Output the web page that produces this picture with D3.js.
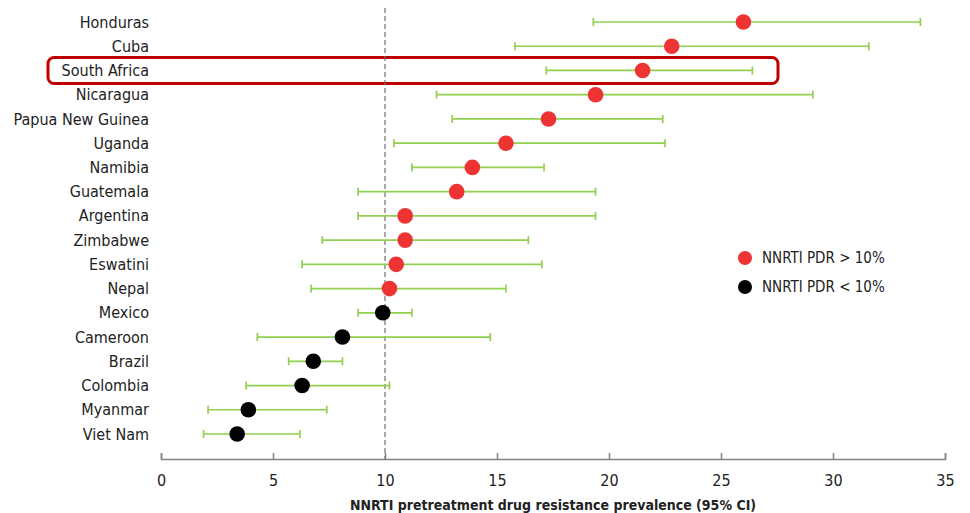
<!DOCTYPE html>
<html>
<head>
<meta charset="utf-8">
<script src="https://cdn.jsdelivr.net/npm/d3@7"></script>
<style>
  body { margin: 0; background: #fff; }
  text { font-family: "Liberation Sans Narrow", "Arial Narrow", "DejaVu Sans Condensed", sans-serif; }
</style>
</head>
<body>
<script>
const countries = ['Honduras', 'Cuba', 'South Africa', 'Nicaragua', 'Papua New Guinea', 'Uganda',
    'Namibia', 'Guatemala', 'Argentina', 'Zimbabwe', 'Eswatini', 'Nepal', 'Mexico', 'Cameroon',
    'Brazil', 'Colombia', 'Myanmar', 'Viet Nam'];
const prevalence = [26.0, 22.8, 21.5, 19.4, 17.3, 15.4, 13.9, 13.2, 10.9, 10.9, 10.5, 10.2,
    9.9, 8.1, 6.8, 6.3, 3.9, 3.4];
const ciLow = [19.3, 15.8, 17.2, 12.3, 13.0, 10.4, 11.2, 8.8, 8.8, 7.2, 6.3, 6.7,
    8.8, 4.3, 5.7, 3.8, 2.1, 1.9];
const ciHigh = [33.9, 31.6, 26.4, 29.1, 22.4, 22.5, 17.1, 19.4, 19.4, 16.4, 17.0, 15.4,
    11.2, 14.7, 8.1, 10.2, 7.4, 6.2];
const xTicks = [0, 5, 10, 15, 20, 25, 30, 35];
const threshold = 10;
const highlight = 'South Africa';
const legendItems = ['NNRTI PDR > 10%', 'NNRTI PDR < 10%'];

const RED = '#ee3333';
const BLACK = '#000000';
const GREEN = '#92d050';

function plot(svg)
{
    const rows = countries.map((c, i) => ({
        country: c, value: prevalence[i], lo: ciLow[i], hi: ciHigh[i]
    }));

    const scX = d3.scaleLinear().domain([0, 35]).range([161, 945]);
    const scY = d3.scalePoint().domain(countries).range([22, 434]);
    const colour = d => d.value > threshold ? RED : BLACK;

    // highlight box behind the row
    svg.append('rect')
        .attr('x', 48)
        .attr('y', scY(highlight) - 13)
        .attr('width', 730)
        .attr('height', 26)
        .attr('rx', 6)
        .attr('fill', 'none')
        .attr('stroke', '#c00000')
        .attr('stroke-width', 3);

    // threshold line
    svg.append('line')
        .attr('x1', scX(threshold)).attr('x2', scX(threshold))
        .attr('y1', 8).attr('y2', 459)
        .attr('stroke', '#707070')
        .attr('stroke-width', 1.2)
        .attr('stroke-dasharray', '5,3');

    // x axis
    const axis = svg.append('g')
        .attr('transform', 'translate(0, 459)')
        .call(d3.axisTop(scX).tickValues(xTicks).tickSize(6).tickFormat(d3.format('d')));
    axis.select('.domain').attr('stroke', '#808080').attr('stroke-width', 1.5);
    axis.selectAll('.tick line').attr('stroke', '#808080').attr('stroke-width', 1.5);
    axis.selectAll('.tick text')
        .attr('y', 21)
        .attr('dy', '0.35em')
        .attr('fill', '#222')
        .attr('font-size', 16);

    svg.append('text')
        .attr('x', scX(17.5))
        .attr('y', 510)
        .attr('text-anchor', 'middle')
        .attr('font-size', 14)
        .attr('font-weight', 'bold')
        .attr('fill', '#222')
        .text('NNRTI pretreatment drug resistance prevalence (95% CI)');

    // country labels
    svg.append('g').selectAll('text')
        .data(rows).enter().append('text')
        .attr('x', 149)
        .attr('y', d => scY(d.country))
        .attr('dy', '0.35em')
        .attr('text-anchor', 'end')
        .attr('font-size', 16)
        .attr('fill', '#222')
        .text(d => d.country);

    // error bars
    const bars = svg.append('g')
        .attr('stroke', GREEN)
        .attr('stroke-width', 1.7);
    bars.selectAll('line.ci')
        .data(rows).enter().append('line')
        .attr('class', 'ci')
        .attr('x1', d => scX(d.lo)).attr('x2', d => scX(d.hi))
        .attr('y1', d => scY(d.country)).attr('y2', d => scY(d.country));
    ['lo', 'hi'].forEach(k => {
        bars.selectAll('line.cap-' + k)
            .data(rows).enter().append('line')
            .attr('class', 'cap-' + k)
            .attr('x1', d => scX(d[k])).attr('x2', d => scX(d[k]))
            .attr('y1', d => scY(d.country) - 4).attr('y2', d => scY(d.country) + 4);
    });

    // points
    svg.append('g').selectAll('circle')
        .data(rows).enter().append('circle')
        .attr('cx', d => scX(d.value))
        .attr('cy', d => scY(d.country))
        .attr('r', 7.8)
        .attr('fill', colour);

    // legend
    const legend = svg.append('g').attr('transform', 'translate(745, 258)');
    legendItems.forEach((label, i) => {
        const g = legend.append('g').attr('transform', `translate(0, ${i * 29})`);
        g.append('circle').attr('r', 7).attr('fill', i === 0 ? RED : BLACK);
        g.append('text')
            .attr('x', 17)
            .attr('dy', '0.35em')
            .attr('font-size', 15)
            .attr('fill', '#222')
            .text(label);
    });
}

function main()
{
    const svg = d3.select('body')
        .append('svg')
        .attr('width', 970)
        .attr('height', 513);
    plot(svg);
}

main();
</script>
</body>
</html>
